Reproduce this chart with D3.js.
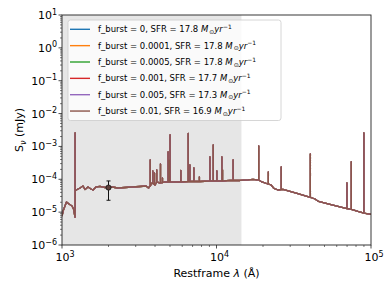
<!DOCTYPE html>
<html>
<head>
<meta charset="utf-8">
<script src="https://cdn.jsdelivr.net/npm/d3@7"></script>
<style>
  body { margin: 0; background: #fff; }
  svg { display: block; font-family: "DejaVu Sans", sans-serif; }
</style>
</head>
<body>
<svg id="chart" width="392" height="294"></svg>
<script>
// ---- data ----
var fBurst = ["0", "0.0001", "0.0005", "0.001", "0.005", "0.01"];
var sfrValues = [17.8, 17.8, 17.8, 17.7, 17.3, 16.9];
var seriesColors = ["#1f77b4", "#ff7f0e", "#2ca02c", "#d62728", "#9467bd", "#8c564b"];

// continuum (restframe wavelength in A, flux in mJy)
var contWave = [1000, 1022, 1069, 1110, 1161, 1187, 1214, 1218, 1238, 1308, 1368, 1409, 1473,
  1541, 1588, 1660, 1762, 1897, 2107, 2304, 2557, 2838, 3198, 3497, 3631, 3712, 3823,
  4000, 4120, 4306, 4642, 5000, 5805, 6738, 7818, 9078, 10536, 12224, 14185, 15995,
  17230, 18290, 19690, 21530, 22520, 23570, 25000, 26940, 33190, 40900, 43400, 45710,
  54280, 69950, 82410, 100000];
var contFlux = [7.6e-6, 1.16e-5, 2.04e-5, 1.77e-5, 1.54e-5, 1.25e-5, 7.1e-6, 4.6e-5, 4.72e-5,
  5.43e-5, 6.25e-5, 4.89e-5, 5.83e-5, 5.07e-5, 4.72e-5, 5.83e-5, 6.04e-5, 5.62e-5,
  5.83e-5, 5.43e-5, 5.62e-5, 5.83e-5, 6.04e-5, 6.25e-5, 5.43e-5, 6.25e-5, 7.71e-5,
  6.71e-5, 8.28e-5, 7.7e-5, 8.28e-5, 8.28e-5, 8.28e-5, 8.57e-5, 8.57e-5, 8.87e-5,
  8.87e-5, 9.2e-5, 9.2e-5, 9.53e-5, 9.87e-5, 9.53e-5, 8.28e-5, 7.19e-5, 6.71e-5,
  5.25e-5, 4.72e-5, 4.89e-5, 3.7e-5, 2.79e-5, 2.51e-5, 2.11e-5, 1.71e-5, 1.29e-5,
  1.05e-5, 8.5e-6];

// emission lines: wavelength, continuum under the line, peak
var lineWave = [1216, 3727, 3869, 3970, 4102, 4340, 4471, 4861, 4959, 5007, 5876, 6563,
  6724, 7136, 7751, 9069, 9532, 10049, 10830, 10938, 12818, 18751, 21661, 26252,
  40512, 69850, 74578, 89910];
var lineBase = [7.1e-6, 6.25e-5, 7.5e-5, 6.9e-5, 8.0e-5, 7.8e-5, 7.9e-5, 8.28e-5, 8.28e-5,
  8.28e-5, 8.28e-5, 8.57e-5, 8.57e-5, 8.57e-5, 8.57e-5, 8.87e-5, 8.87e-5, 8.87e-5,
  8.87e-5, 8.87e-5, 9.2e-5, 9.53e-5, 7.19e-5, 4.89e-5, 2.8e-5, 1.29e-5, 1.21e-5, 9.4e-6];
var linePeak = [2.56e-3, 3.87e-4, 1.79e-4, 1.56e-4, 1.92e-4, 2.92e-4, 1.10e-4, 6.78e-4,
  3.87e-4, 2.23e-3, 1.85e-4, 2.48e-3, 2.72e-4, 2.21e-4, 1.18e-4, 4.77e-4, 1.11e-3,
  1.79e-4, 4.77e-4, 1.92e-4, 3.87e-4, 1.03e-3, 1.67e-4, 2.37e-4, 5.89e-4, 7.71e-5,
  3.43e-4, 2.56e-3];

// photometric point with error bar
var obsWave = [2000];
var obsFlux = [5.6e-5];
var obsErr = [3.3e-5];

(function() {

    var svg = d3.select("#chart"),
        mLeft = 62, mRight = 371, mTop = 15, mBottom = 245;

    var x = d3.scaleLog().domain([1e3, 1e5]).range([mLeft, mRight]);
    var y = d3.scaleLog().domain([1e-6, 1e1]).range([mBottom, mTop]);

    // spectrum points (continuum + spikes), sorted by wavelength
    var spec = contWave.map(function(w, i) { return [w, contFlux[i]]; });
    lineWave.forEach(function(w, i) {
        spec.push([w, lineBase[i]], [w, linePeak[i]], [w, lineBase[i]]);
    });
    spec.sort(function(a, b) { return a[0] - b[0]; });

    svg.append("defs").append("clipPath").attr("id", "clip")
        .append("rect")
        .attr("x", mLeft).attr("y", mTop)
        .attr("width", mRight - mLeft).attr("height", mBottom - mTop);

    // shaded band
    svg.append("rect")
        .attr("x", x(1e3))
        .attr("y", mTop)
        .attr("width", x(14500) - x(1e3))
        .attr("height", mBottom - mTop)
        .style("fill", "#e6e6e6");

    var line = d3.line()
        .x(function(d) { return x(d[0]); })
        .y(function(d) { return y(d[1]); });

    var plot = svg.append("g").attr("clip-path", "url(#clip)");

    plot.selectAll("path.spec")
        .data(seriesColors)
        .enter().append("path")
        .attr("class", "spec")
        .attr("d", line(spec))
        .style("fill", "none")
        .style("stroke", function(c) { return c; })
        .style("stroke-width", 1.3)
        .style("stroke-linejoin", "round");

    // error bar
    var eb = plot.selectAll("g.obs")
        .data(obsWave)
        .enter().append("g").attr("class", "obs");

    eb.append("line")
        .attr("x1", function(d) { return x(d); })
        .attr("x2", function(d) { return x(d); })
        .attr("y1", function(d, i) { return y(obsFlux[i] + obsErr[i]); })
        .attr("y2", function(d, i) { return y(obsFlux[i] - obsErr[i]); })
        .style("stroke", "#111").style("stroke-width", 1);

    [1, -1].forEach(function(s) {
        eb.append("line")
            .attr("x1", function(d) { return x(d) - 2; })
            .attr("x2", function(d) { return x(d) + 2; })
            .attr("y1", function(d, i) { return y(obsFlux[i] + s * obsErr[i]); })
            .attr("y2", function(d, i) { return y(obsFlux[i] + s * obsErr[i]); })
            .style("stroke", "#111").style("stroke-width", 1);
    });

    eb.append("circle")
        .attr("cx", function(d) { return x(d); })
        .attr("cy", function(d, i) { return y(obsFlux[i]); })
        .attr("r", 2.6)
        .style("fill", "#5e403b")
        .style("stroke", "#111")
        .style("stroke-width", 0.8);

    // frame
    svg.append("rect")
        .attr("x", mLeft).attr("y", mTop)
        .attr("width", mRight - mLeft).attr("height", mBottom - mTop)
        .style("fill", "none")
        .style("stroke", "#222")
        .style("stroke-width", 0.9);

    function decades(lo, hi) {
        var out = [];
        for (var e = lo; e <= hi; e++) out.push(e);
        return out;
    }
    function minors(lo, hi) {
        var out = [];
        for (var e = lo; e < hi; e++)
            for (var k = 2; k <= 9; k++) out.push(k * Math.pow(10, e));
        return out;
    }

    var tickColor = "#222";

    // x axis
    svg.selectAll("line.xmaj").data(decades(3, 5)).enter().append("line")
        .attr("class", "xmaj")
        .attr("x1", function(e) { return x(Math.pow(10, e)); })
        .attr("x2", function(e) { return x(Math.pow(10, e)); })
        .attr("y1", mBottom).attr("y2", mBottom + 3.5)
        .style("stroke", tickColor).style("stroke-width", 0.8);
    svg.selectAll("line.xmin").data(minors(3, 5)).enter().append("line")
        .attr("class", "xmin")
        .attr("x1", function(v) { return x(v); })
        .attr("x2", function(v) { return x(v); })
        .attr("y1", mBottom).attr("y2", mBottom + 2)
        .style("stroke", tickColor).style("stroke-width", 0.6);

    var xl = svg.selectAll("text.xlab").data(decades(3, 5)).enter().append("text")
        .attr("class", "xlab")
        .attr("x", function(e) { return x(Math.pow(10, e)) + 3; })
        .attr("y", 261)
        .attr("text-anchor", "middle")
        .style("font-size", "11px")
        .style("fill", "#000");
    xl.append("tspan").text("10");
    xl.append("tspan").attr("dy", -4.5).style("font-size", "8px").text(function(e) { return e; });

    // y axis
    svg.selectAll("line.ymaj").data(decades(-6, 1)).enter().append("line")
        .attr("class", "ymaj")
        .attr("y1", function(e) { return y(Math.pow(10, e)); })
        .attr("y2", function(e) { return y(Math.pow(10, e)); })
        .attr("x1", mLeft - 3.5).attr("x2", mLeft)
        .style("stroke", tickColor).style("stroke-width", 0.8);
    svg.selectAll("line.ymin").data(minors(-6, 1)).enter().append("line")
        .attr("class", "ymin")
        .attr("y1", function(v) { return y(v); })
        .attr("y2", function(v) { return y(v); })
        .attr("x1", mLeft - 2).attr("x2", mLeft)
        .style("stroke", tickColor).style("stroke-width", 0.6);

    var yl = svg.selectAll("text.ylab").data(decades(-6, 1)).enter().append("text")
        .attr("class", "ylab")
        .attr("x", 57)
        .attr("y", function(e) { return y(Math.pow(10, e)) + 4; })
        .attr("text-anchor", "end")
        .style("font-size", "11px")
        .style("fill", "#000");
    yl.append("tspan").text("10");
    yl.append("tspan").attr("dy", -4.5).style("font-size", "8px")
        .text(function(e) { return e < 0 ? "\u2212" + (-e) : e; });

    // axis titles
    var xt = svg.append("text")
        .attr("x", (mLeft + mRight) / 2).attr("y", 277)
        .attr("text-anchor", "middle")
        .style("font-size", "11px");
    xt.append("tspan").text("Restframe ");
    xt.append("tspan").style("font-style", "italic").text("\u03bb");
    xt.append("tspan").text(" (\u00c5)");

    var yt = svg.append("text")
        .attr("transform", "translate(23," + ((mTop + mBottom) / 2) + ") rotate(-90)")
        .attr("text-anchor", "middle")
        .style("font-size", "11px");
    yt.append("tspan").text("S");
    yt.append("tspan").attr("dy", 2.5).style("font-size", "8px").style("font-style", "italic").text("\u03bd");
    yt.append("tspan").attr("dy", -2.5).text(" (mJy)");

    // legend
    var lg = svg.append("g");
    lg.append("rect")
        .attr("x", 68).attr("y", 20)
        .attr("width", 213).attr("height", 100.5)
        .attr("rx", 2.5)
        .style("fill", "#fff").style("fill-opacity", 0.8)
        .style("stroke", "#cccccc").style("stroke-width", 0.8);

    var items = lg.selectAll("g.item").data(fBurst).enter().append("g")
        .attr("class", "item")
        .attr("transform", function(d, i) { return "translate(0," + (29.3 + i * 16.35) + ")"; });

    items.append("line")
        .attr("x1", 70).attr("x2", 90)
        .style("stroke", function(d, i) { return seriesColors[i]; })
        .style("stroke-width", 1.4);

    var lt = items.append("text")
        .attr("x", 98).attr("y", 3)
        .style("font-size", "8.5px")
        .style("fill", "#000");
    lt.append("tspan").text(function(d, i) { return "f_burst = " + d + ", SFR = " + sfrValues[i].toFixed(1) + " "; });
    lt.append("tspan").style("font-style", "italic").text("M");
    lt.append("tspan").attr("dy", 1.5).attr("dx", 1).style("font-size", "6px").text("\u2299");
    lt.append("tspan").attr("dy", -1.5).style("font-style", "italic").text("yr");
    lt.append("tspan").attr("dy", -3.5).style("font-size", "6px").text("\u22121");

})();
</script>
</body>
</html>
